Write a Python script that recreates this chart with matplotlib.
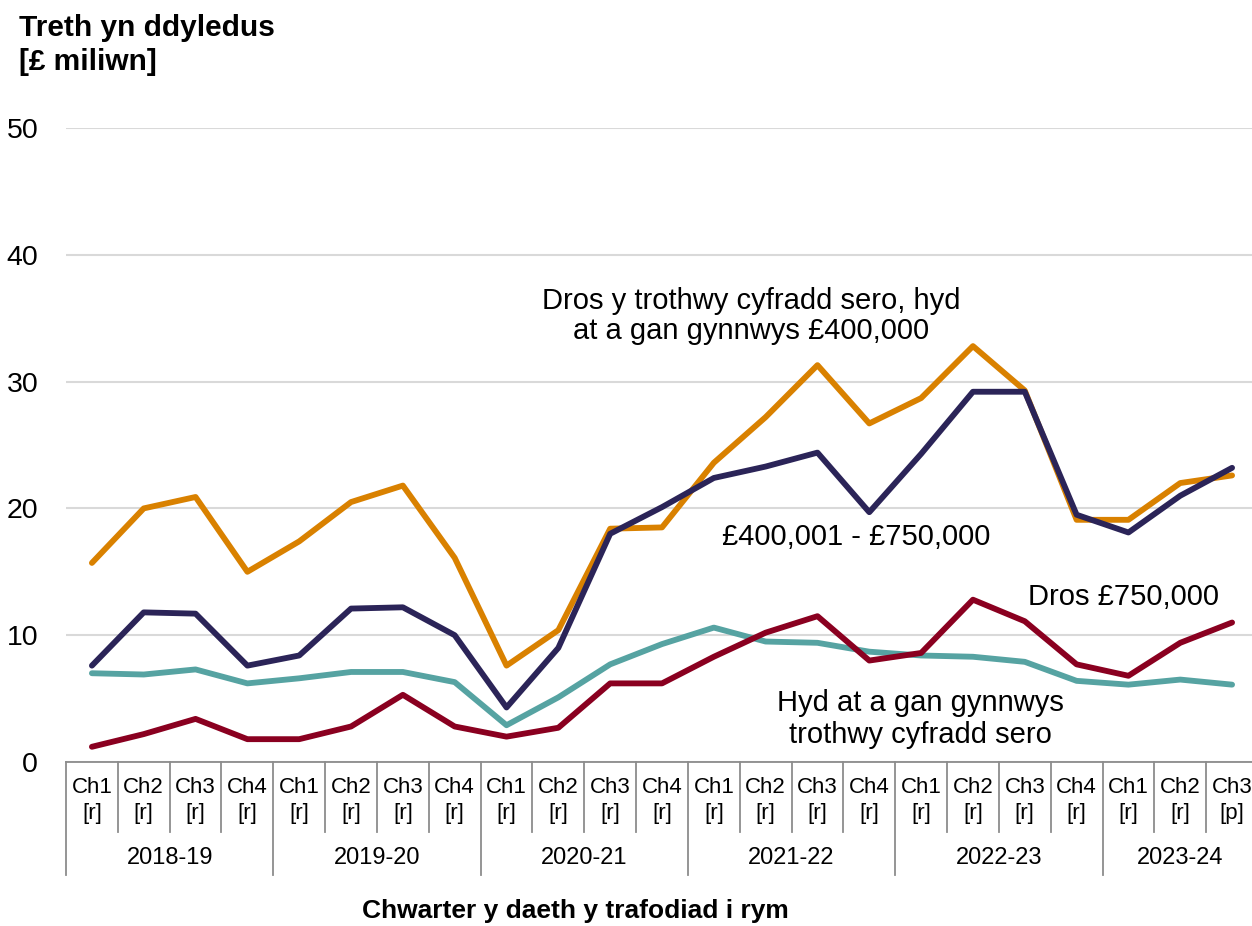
import matplotlib
matplotlib.use("Agg")
import matplotlib.pyplot as plt

# quarters (Ch = chwarter), flags [r] revised / [p] provisional
quarters = ["Ch1", "Ch2", "Ch3", "Ch4"] * 5 + ["Ch1", "Ch2", "Ch3"]
flags = ["[r]"] * 22 + ["[p]"]
years = ["2018-19", "2019-20", "2020-21", "2021-22", "2022-23", "2023-24"]

# tax due, £ million
zero_to_400k = [15.7, 20.0, 20.9, 15.0, 17.4, 20.5, 21.8, 16.1,
                7.6, 10.4, 18.4, 18.5, 23.6, 27.2, 31.3, 26.7,
                28.7, 32.8, 29.3, 19.1, 19.1, 22.0, 22.6]
band_400k_750k = [7.6, 11.8, 11.7, 7.6, 8.4, 12.1, 12.2, 10.0,
                  4.3, 9.0, 18.0, 20.1, 22.4, 23.3, 24.4, 19.7,
                  24.3, 29.2, 29.2, 19.5, 18.1, 21.0, 23.2]
over_750k = [1.2, 2.2, 3.4, 1.8, 1.8, 2.8, 5.3, 2.8,
             2.0, 2.7, 6.2, 6.2, 8.3, 10.2, 11.5, 8.0,
             8.6, 12.8, 11.1, 7.7, 6.8, 9.4, 11.0]
up_to_zero = [7.0, 6.9, 7.3, 6.2, 6.6, 7.1, 7.1, 6.3,
              2.9, 5.1, 7.7, 9.3, 10.6, 9.5, 9.4, 8.7,
              8.4, 8.3, 7.9, 6.4, 6.1, 6.5, 6.1]

C_ORANGE = "#D98100"
C_NAVY = "#2B2458"
C_RED = "#8A0020"
C_TEAL = "#56A3A2"
SPINE = "#8C8C8C"

plt.rcParams["font.family"] = ["Liberation Sans", "DejaVu Sans"]

W, H = 1252, 926
fig = plt.figure(figsize=(W / 100, H / 100), dpi=100)
fig.patch.set_facecolor("white")


def fx(px):
    return px / W


def fy(py):
    return 1 - py / H


ax = fig.add_axes([fx(66), 164 / H, (1258 - 66) / W, 634 / H])

x = list(range(len(quarters)))
lw = 4.2
ax.plot(x, up_to_zero, color=C_TEAL, lw=lw, solid_capstyle="round", zorder=3)
ax.plot(x, over_750k, color=C_RED, lw=lw, solid_capstyle="round", zorder=4)
ax.plot(x, zero_to_400k, color=C_ORANGE, lw=lw, solid_capstyle="round", zorder=3)
ax.plot(x, band_400k_750k, color=C_NAVY, lw=lw, solid_capstyle="round", zorder=4)

ax.set_xlim(-0.5, len(quarters) - 0.5)
ax.set_ylim(0, 50)
ax.set_yticks([0, 10, 20, 30, 40, 50])
ax.tick_params(axis="y", length=0, pad=20, labelsize=20.5)
ax.grid(axis="y", color="#D9D9D9", lw=1.5)
ax.set_axisbelow(True)

for s in ["top", "right", "left"]:
    ax.spines[s].set_visible(False)
ax.spines["bottom"].set_color(SPINE)
ax.spines["bottom"].set_linewidth(1.3)

ax.set_xticks(x)
ax.set_xticklabels([f"{q}\n{f}" for q, f in zip(quarters, flags)],
                   fontsize=16, linespacing=1.28)
ax.tick_params(axis="x", length=0, pad=11)

# category separators below the axis
tr = ax.get_xaxis_transform()
q_depth = -70 / 634
y_depth = -113 / 634
for i in range(len(quarters)):
    depth = y_depth if i % 4 == 0 else q_depth
    ax.plot([i - 0.5, i - 0.5], [0, depth], transform=tr, color=SPINE,
            lw=1.3, clip_on=False)
for k, yr in enumerate(years):
    start = 4 * k
    end = min(start + 4, len(quarters))
    ax.text((start + end - 1) / 2, -96 / 634, yr, transform=tr,
            ha="center", va="center", fontsize=17)

# series labels
fig.text(fx(751), fy(316), "Dros y trothwy cyfradd sero, hyd\nat a gan gynnwys £400,000",
         ha="center", va="center", fontsize=21, linespacing=1.12)
fig.text(fx(722), fy(537), "£400,001 - £750,000", ha="left", va="center", fontsize=21)
fig.text(fx(1124), fy(597), "Dros £750,000", ha="center", va="center", fontsize=21)
fig.text(fx(920), fy(719), "Hyd at a gan gynnwys\ntrothwy cyfradd sero",
         ha="center", va="center", fontsize=21, linespacing=1.18)

# axis titles
fig.text(fx(19), fy(14), "Treth yn ddyledus\n[£ miliwn]", ha="left", va="top",
         fontsize=21.5, fontweight="bold", linespacing=1.25)
fig.text(fx(575), fy(911), "Chwarter y daeth y trafodiad i rym", ha="center",
         va="center", fontsize=19, fontweight="bold")

fig.savefig("out.png", dpi=100)
